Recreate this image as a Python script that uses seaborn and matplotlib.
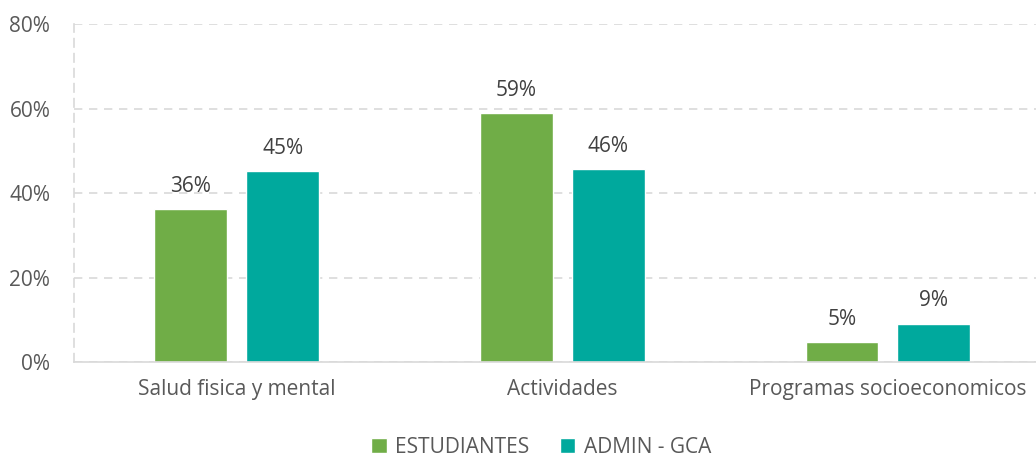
import pandas as pd
import matplotlib.pyplot as plt
import seaborn as sns

# values (percent)
categories = ["Salud fisica y mental", "Actividades", "Programas socioeconomicos"]
estudiantes = [36.2, 58.9, 4.7]
admin_gca = [45.2, 45.7, 9.0]
series_names = ["ESTUDIANTES", "ADMIN - GCA"]
colors = ["#70AD47", "#00A99D"]
y_ticks = [0, 20, 40, 60, 80]

data = pd.DataFrame({
    "categoria": categories * 2,
    "valor": estudiantes + admin_gca,
    "grupo": [series_names[0]] * 3 + [series_names[1]] * 3,
})

sns.set_style("white")
plt.rcParams["font.family"] = ["Open Sans", "DejaVu Sans"]

fig = plt.figure(figsize=(10.36, 4.57), dpi=100)
ax = fig.add_axes([0.0714, 0.208, 0.9286, 0.739])

sns.barplot(data=data, x="categoria", y="valor", hue="grupo",
            palette=colors, width=0.564, gap=0.206, ax=ax,
            saturation=1, errorbar=None)

for container in ax.containers:
    labels = [f"{v:.0f}%" for v in container.datavalues]
    ax.bar_label(container, labels=labels, padding=9, fontsize=15,
                 color="#404040")

ax.set_ylim(0, 80)
ax.set_xlim(-0.5, 2.455)
ax.set_yticks(y_ticks)
ax.set_yticklabels([f"{t}%" for t in y_ticks])
ax.yaxis.grid(True, linestyle=(0, (5, 4)), color="#D9D9D9", linewidth=1.2)
ax.set_axisbelow(True)
ax.set_xlabel("")
ax.set_ylabel("")
ax.tick_params(axis="both", length=0, labelsize=15, labelcolor="#595959")
ax.tick_params(axis="x", pad=12)
ax.tick_params(axis="y", pad=17)

for side in ["top", "right"]:
    ax.spines[side].set_visible(False)
ax.spines["left"].set_linestyle((0, (5, 4)))
ax.spines["left"].set_color("#D9D9D9")
ax.spines["left"].set_linewidth(1.2)
ax.spines["bottom"].set_color("#D9D9D9")
ax.spines["bottom"].set_linewidth(1.2)

ax.legend(loc="center", bbox_to_anchor=(0.4855, -0.252), ncol=2,
          frameon=False, fontsize=15, handlelength=0.75, handleheight=0.75,
          handletextpad=0.4, columnspacing=1.47, labelcolor="#595959")

fig.savefig("out.png", dpi=100)
